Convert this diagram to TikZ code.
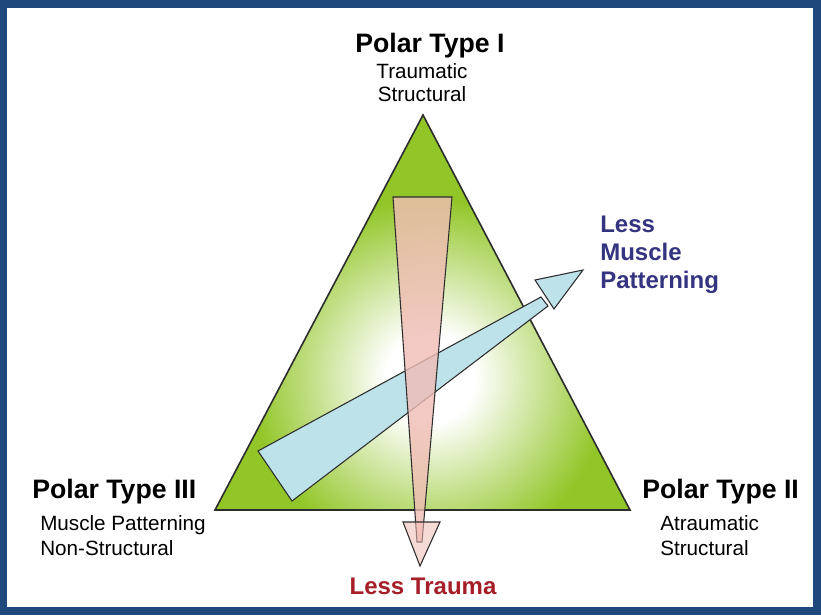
\documentclass[tikz,border=0pt]{standalone}
\usepackage{fontspec}
\setmainfont{Liberation Sans}
\definecolor{framebl}{RGB}{31,73,125}
\definecolor{trigreen}{RGB}{146,198,40}
\definecolor{edgegray}{RGB}{45,45,45}
\definecolor{traumapink}{RGB}{240,188,180}
\definecolor{musclebl}{RGB}{190,226,233}
\definecolor{labelbl}{RGB}{52,52,128}
\definecolor{labelred}{RGB}{165,30,40}
\pgfdeclareradialshading{trianglow}{\pgfpoint{0bp}{0bp}}{color(0bp)=(white); color(4bp)=(white); color(16bp)=(trigreen); color(50bp)=(trigreen)}
\begin{document}
\begin{tikzpicture}[
  x=0.75pt, y=-0.75pt,
  pole/.style={font=\bfseries\fontsize{20}{24}\selectfont, inner sep=0pt, anchor=base},
  desc/.style={font=\fontsize{15.5}{18.75}\selectfont, inner sep=0pt, align=left, anchor=north west},
  trend/.style={font=\bfseries\fontsize{18}{21}\selectfont, inner sep=0pt},
  outline/.style={draw=edgegray, line width=0.8pt, line join=miter}
]
\fill[framebl] (0,0) rectangle (821,615);
\fill[white] (7,8) rectangle (813,607);
\useasboundingbox (0,0) rectangle (821,615);

\coordinate (ptI) at (423,115);
\coordinate (ptIII) at (215,510);
\coordinate (ptII) at (630,510);
\begin{scope}
  \clip (ptI) -- (ptII) -- (ptIII) -- cycle;
  \fill[trigreen] (ptIII) rectangle (ptI -| ptII);
  \shade[shading=trianglow] (430,378) circle (280);
\end{scope}
\draw[edgegray, line width=1.2pt, line join=miter] (ptI) -- (ptII) -- (ptIII) -- cycle;

\coordinate (mus1) at (258,451);
\coordinate (mus2) at (292,501);
\coordinate (mus3) at (548,306);
\coordinate (mus4) at (541,297);
\coordinate (mushead1) at (535,280);
\coordinate (mustip) at (583,270);
\coordinate (mushead2) at (554,309);
\filldraw[outline, fill=musclebl] (mus1) -- (mus2) -- (mus3) -- (mus4) -- cycle;
\filldraw[outline, fill=musclebl] (mushead1) -- (mustip) -- (mushead2) -- cycle;

\coordinate (tra1) at (393,197);
\coordinate (tra2) at (452,197);
\coordinate (tra3) at (422,542);
\coordinate (tra4) at (417,542);
\coordinate (trahead1) at (403,522);
\coordinate (trahead2) at (440,522);
\coordinate (tratip) at (420,566);
\filldraw[outline, fill=traumapink, fill opacity=0.8] (tra1) -- (tra2) -- (tra3) -- (tra4) -- cycle;
\filldraw[outline, fill=traumapink, fill opacity=0.55] (trahead1) -- (trahead2) -- (tratip) -- cycle;

\node[pole] (polI) at (430,52) {Polar Type I};
\node[desc, font=\fontsize{15.5}{17.25}\selectfont, align=center, anchor=north] (polIdesc) at (422,63) {Traumatic\\Structural};
\node[pole, anchor=base west] (polIII) at (32,498) {Polar Type III};
\node[desc] (polIIIdesc) at (40,515) {Muscle Patterning\\Non-Structural};
\node[pole, anchor=base west] (polII) at (642,498) {Polar Type II};
\node[desc] (polIIdesc) at (660,515) {Atraumatic\\Structural};
\node[trend, text=labelbl, align=left, anchor=north west] (lessmuscle) at (600,216) {Less\\Muscle\\Patterning};
\node[trend, text=labelred, anchor=base] (lesstrauma) at (423,594) {Less Trauma};
\end{tikzpicture}
\end{document}
